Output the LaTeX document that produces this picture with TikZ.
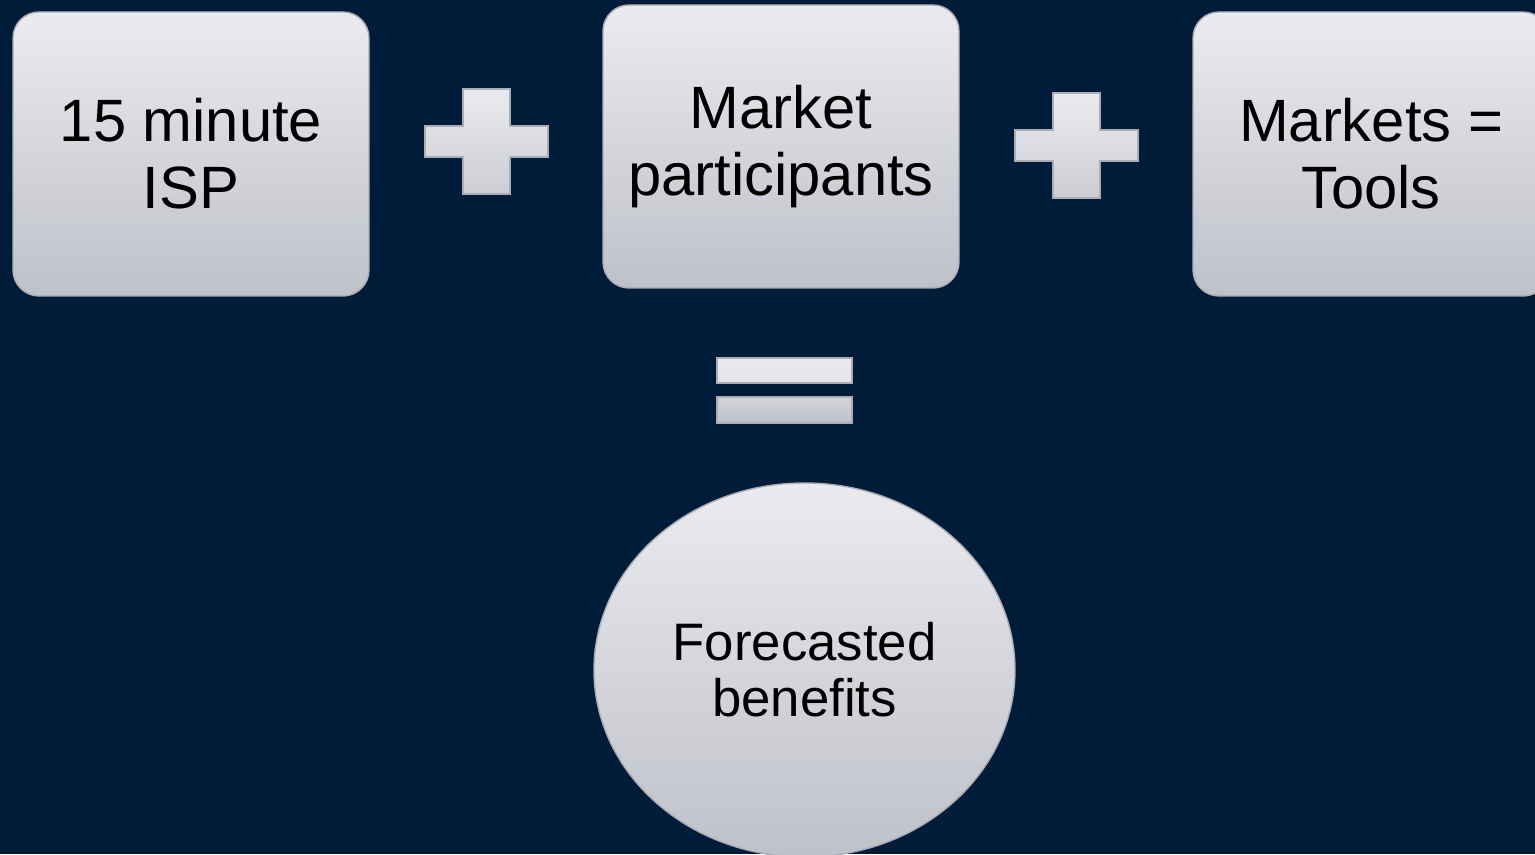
\documentclass[tikz,border=0pt]{standalone}
\usepackage{fontspec}
\setmainfont{Liberation Sans}
\usetikzlibrary{shapes.geometric, positioning}
\definecolor{navybg}{RGB}{1,28,57}
\definecolor{greytop}{RGB}{235,235,239}
\definecolor{greybot}{RGB}{191,193,201}
\definecolor{greyedge}{RGB}{170,173,182}

\begin{document}
\begin{tikzpicture}[
    gbox/.style={rectangle, rounded corners=0.26cm, draw=greyedge, line width=0.4pt, top color=greytop, bottom color=greybot, minimum width=3.56cm, minimum height=2.84cm, align=center, inner sep=0pt, font=\fontsize{17}{19}\selectfont},
    gcircle/.style={ellipse, draw=greyedge, line width=0.4pt, top color=greytop, bottom color=greybot, minimum width=4.21cm, minimum height=3.74cm, align=center, inner sep=0pt, font=\fontsize{15}{16}\selectfont},
    gsign/.style={draw=greyedge, line width=0.4pt, top color=greytop, bottom color=greybot!80!white}
]

% background and page size
\fill[navybg] (0,0) rectangle (15.35,8.54);
\useasboundingbox (0,0) rectangle (15.35,8.54);

\node[gbox] (isp) at (1.91,7.00) {15 minute\\ISP};
\node[gbox, minimum height=2.83cm] (parts) at (7.81,7.075) {Market\\participants};
\node[gbox] (tools) at (13.71,7.00) {Markets =\\Tools};

% plus signs
\path[gsign, shift={(4.865,7.125)}] (-0.235,0.525) -- (0.235,0.525) -- (0.235,0.155) -- (0.615,0.155) -- (0.615,-0.155) -- (0.235,-0.155) -- (0.235,-0.525) -- (-0.235,-0.525) -- (-0.235,-0.155) -- (-0.615,-0.155) -- (-0.615,0.155) -- (-0.235,0.155) -- cycle;
\path[gsign, shift={(10.765,7.085)}] (-0.235,0.525) -- (0.235,0.525) -- (0.235,0.155) -- (0.615,0.155) -- (0.615,-0.155) -- (0.235,-0.155) -- (0.235,-0.525) -- (-0.235,-0.525) -- (-0.235,-0.155) -- (-0.615,-0.155) -- (-0.615,0.155) -- (-0.235,0.155) -- cycle;

% equals sign
\path[gsign, top color=greytop, bottom color=greytop!80!greybot] (7.17,4.71) rectangle (8.52,4.96);
\path[gsign, top color=greytop!45!greybot, bottom color=greybot] (7.17,4.31) rectangle (8.52,4.57);

\node[gcircle] (benefits) at (8.045,1.84) {Forecasted\\benefits};

\end{tikzpicture}
\end{document}
